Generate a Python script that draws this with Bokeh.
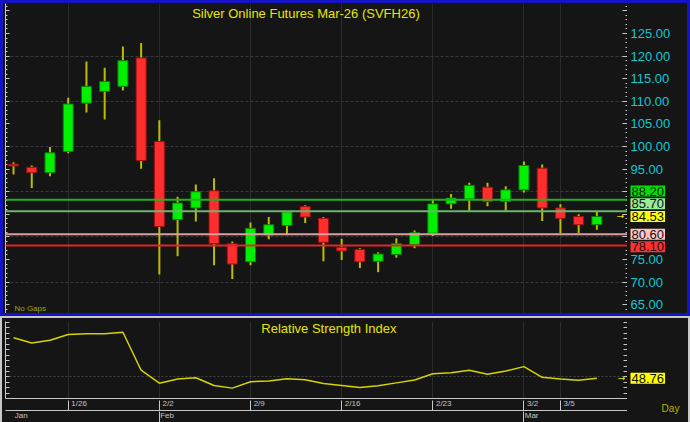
from bokeh.plotting import figure
from bokeh.models import (Span, Label, FixedTicker, LinearAxis, Range1d,
                          PrintfTickFormatter)
from bokeh.layouts import column, row
from bokeh.embed import file_html
from bokeh.resources import INLINE

# ---------------- data ----------------
open_ = [96.1, 95.4, 94.2, 98.9, 109.6, 112.2, 113.3, 119.6, 101.1, 83.8,
         86.4, 90.2, 78.5, 74.5, 80.4, 82.5, 86.7, 84.1, 77.7, 77.2,
         74.6, 76.1, 78.3, 80.8, 87.3, 88.4, 91.0, 87.8, 90.4, 95.2,
         86.4, 84.5, 82.7]
high = [96.5, 95.8, 99.9, 110.8, 118.8, 117.4, 122.1, 122.9, 105.8, 88.9,
        91.6, 93.0, 79.0, 83.2, 84.4, 85.6, 87.0, 84.4, 79.6, 77.5,
        76.6, 79.7, 81.4, 88.4, 89.5, 92.0, 92.0, 91.2, 96.7, 96.0,
        87.2, 85.0, 85.5]
low = [93.8, 90.8, 93.4, 98.5, 107.5, 106.0, 112.4, 95.1, 71.7, 75.7,
       83.4, 73.7, 70.7, 73.7, 79.5, 80.4, 83.1, 74.6, 74.9, 73.1,
       72.2, 75.4, 77.5, 80.2, 86.2, 85.8, 86.8, 85.5, 89.8, 83.5,
       80.8, 80.8, 81.6]
close = [95.7, 94.2, 98.6, 109.4, 113.3, 114.4, 119.0, 96.9, 82.3, 87.5,
         90.0, 78.5, 74.0, 81.9, 82.7, 85.5, 84.4, 78.8, 76.9, 74.5,
         76.2, 78.5, 80.9, 87.3, 88.6, 91.4, 87.8, 90.4, 95.8, 86.4,
         84.1, 82.7, 84.53]
rsi = [85.9, 81.2, 83.6, 88.9, 89.5, 89.5, 91.0, 56.2, 44.3, 48.1,
       49.3, 42.2, 39.8, 45.7, 46.4, 48.4, 47.5, 44.0, 42.3, 40.4,
       41.9, 44.6, 47.2, 52.9, 53.8, 56.2, 52.6, 55.5, 59.5, 49.7,
       48.1, 47.0, 48.76]

date_tick_idx = [3, 8, 13, 18, 23, 28, 30]
date_tick_labels = ["1/26", "2/2", "2/9", "2/16", "2/23", "3/2", "3/5"]
month_tick_idx = [0, 8, 28]
month_tick_labels = ["Jan", "Feb", "Mar"]

price_ticks = [65, 70, 75, 95, 100, 105, 110, 115, 120, 125]
level_values = [88.20, 85.70, 80.60, 78.10]
last_price = 84.53
last_rsi = 48.76

title_main = "Silver Online Futures Mar-26 (SVFH26)"
title_rsi = "Relative Strength Index"
period_label = "Day"

# ---------------- styling ----------------
FONT = "Liberation Sans"
BG = "#151515"
GRID_V = "#2c2c2c"
GRID_H = "#3a3a3a"
AXIS_C = "#c8c8c8"
YEL = "#e6e600"
CYAN = "#10c8d4"
level_line_colors = ["#22b022", "#6cb46c", "#d8a0a0", "#e02626"]
level_box_colors = ["#00e000", "#98ee98", "#ffc4c4", "#ff3030"]

idx = list(range(len(close)))
X0, X1 = -0.44, 33.68
FRAME_W = 621
PX_PER_UNIT = FRAME_W / (X1 - X0)
BOX_H = 2.8  # height of a price box, in price units


def hide_labels(ax, standoff=0):
    ax.major_label_text_color = None
    ax.major_label_text_font_size = "1px"
    ax.major_label_standoff = standoff


def base_fig(**kw):
    f = figure(output_backend="svg", toolbar_location=None, **kw)
    f.background_fill_color = BG
    f.border_fill_color = BG
    f.outline_line_color = None
    return f


def right_shift(labels, gap_px):
    # shift label centres so a centred axis label starts just right of its tick
    return [(len(t) * 4.45 / 2 + gap_px) / PX_PER_UNIT for t in labels]


def plain_axis(ticks, **kw):
    return LinearAxis(ticker=FixedTicker(ticks=ticks), minor_tick_line_color=None,
                      major_tick_in=0, major_tick_out=0, **kw)


# ---------------- main price panel ----------------
p = base_fig(width=2 + FRAME_W + 1, height=310, x_range=Range1d(X0, X1), y_range=Range1d(63.05, 131.64),
             x_axis_location=None, y_axis_location="right",
             min_border_left=2, min_border_right=0, min_border_top=0, min_border_bottom=0)

p.xgrid.ticker = FixedTicker(ticks=date_tick_idx)
p.xgrid.grid_line_color = GRID_V
p.ygrid.ticker = FixedTicker(ticks=[70, 80, 90, 100, 110, 120])
p.ygrid.grid_line_color = GRID_H
p.ygrid.grid_line_dash = "3 2"

ya = p.yaxis[0]
ya.ticker = FixedTicker(ticks=list(range(65, 131, 5)), minor_ticks=list(range(63, 132)))
hide_labels(ya)
ya.axis_line_color = AXIS_C
ya.major_tick_line_color = AXIS_C
ya.minor_tick_line_color = AXIS_C
ya.major_tick_in, ya.major_tick_out = 5, 0
ya.minor_tick_in, ya.minor_tick_out = 2, 0

la = LinearAxis(ticker=FixedTicker(ticks=list(range(65, 131, 5)), minor_ticks=list(range(63, 132))),
                axis_line_color=AXIS_C, major_tick_line_color=AXIS_C, minor_tick_line_color=AXIS_C,
                major_tick_in=4, major_tick_out=0, minor_tick_in=2, minor_tick_out=0)
hide_labels(la)
p.add_layout(la, "left")

for v, c in zip(level_values, level_line_colors):
    p.add_layout(Span(location=v, dimension="width", line_color=c, line_width=2))

up = [c >= o for o, c in zip(open_, close)]
tops = [max(o, c) for o, c in zip(open_, close)]
bots = [min(o, c) for o, c in zip(open_, close)]
fills = ["#00f000" if u else "#ff2e2e" for u in up]
edges = ["#0a7a0a" if u else "#9a1010" for u in up]

p.segment(x0=idx, y0=low, x1=idx, y1=high, line_color="#bcbc00", line_width=2)
p.vbar(x=idx, width=0.55, top=tops, bottom=bots, fill_color=fills, line_color=edges, line_width=1)

p.add_layout(Label(x=33.3, y=last_price, text="→", text_align="center", text_baseline="middle",
                   text_font="DejaVu Sans", text_font_size="9px", text_color=YEL))
p.add_layout(Label(x=16.04, y=129.4, text=title_main, text_align="center", text_baseline="middle",
                   text_font=FONT, text_font_size="13px", text_color=YEL))
p.add_layout(Label(x=0.05, y=64.2, text="No Gaps", text_align="left", text_baseline="middle",
                   text_font=FONT, text_font_size="8px", text_color="#a8a800"))

# ---------------- price scale column ----------------
Q_W, Q_FRAME = 60, 42
q = base_fig(width=Q_W, height=310, x_range=Range1d(0, Q_FRAME), y_range=p.y_range,
             x_axis_location=None, y_axis_location="right",
             min_border_left=0, min_border_right=Q_W - Q_FRAME, min_border_top=0, min_border_bottom=0)
q.grid.visible = False
qa = q.yaxis[0]
qa.ticker = FixedTicker(ticks=price_ticks)
qa.formatter = PrintfTickFormatter(format="%.2f")
qa.major_label_text_color = CYAN
qa.major_label_text_font = FONT
qa.major_label_text_font_size = "13px"
qa.axis_line_color = None
qa.major_tick_line_color = None
qa.minor_tick_line_color = None
qa.major_tick_in, qa.major_tick_out = 0, 0
qa.major_label_standoff = -(Q_FRAME - 3)

# price boxes, stacked so they do not overlap the last-price box
above = sorted([v for v in level_values if v > last_price])
below = sorted([v for v in level_values if v < last_price], reverse=True)
box_pos = {}
prev = last_price
for v in above:
    prev = max(v, prev + BOX_H)
    box_pos[v] = prev
prev = last_price
for v in below:
    prev = min(v, prev - BOX_H)
    box_pos[v] = prev

for v, c in zip(level_values, level_box_colors):
    q.add_layout(Label(x=3, y=box_pos[v], text=f"{v:.2f}", text_align="left", text_baseline="middle",
                       text_font=FONT, text_font_size="13px", text_color="#101010",
                       background_fill_color=c, padding=1))
q.add_layout(Label(x=3, y=last_price, text=f"{last_price:.2f}", text_align="left",
                   text_baseline="middle", text_font=FONT, text_font_size="13px", text_color="#101010",
                   background_fill_color="#ffff00", padding=1))

# ---------------- RSI panel ----------------
r = base_fig(width=3 + FRAME_W + 1, height=104, x_range=p.x_range, y_range=Range1d(30.3, 100.8),
             x_axis_location=None, y_axis_location="right",
             min_border_left=3, min_border_right=0, min_border_top=3, min_border_bottom=22)

r.xgrid.ticker = FixedTicker(ticks=date_tick_idx)
r.xgrid.grid_line_color = GRID_V
r.ygrid.ticker = FixedTicker(ticks=[50])
r.ygrid.grid_line_color = "#444444"
r.ygrid.grid_line_dash = "2 2"

ry = r.yaxis[0]
ry.ticker = FixedTicker(ticks=list(range(35, 101, 5)))
hide_labels(ry)
ry.axis_line_color = AXIS_C
ry.major_tick_line_color = AXIS_C
ry.major_tick_in, ry.major_tick_out = 4, 0
ry.minor_tick_line_color = None

rl = LinearAxis(ticker=FixedTicker(ticks=list(range(35, 101, 5))),
                axis_line_color=AXIS_C, major_tick_line_color=AXIS_C,
                major_tick_in=4, major_tick_out=0, minor_tick_line_color=None)
hide_labels(rl)
r.add_layout(rl, "left")

# 1) date labels, just right of their day separators (axis line = panel bottom)
d_pos = [i + s for i, s in zip(date_tick_idx, right_shift(date_tick_labels, 2))]
ax_dates = plain_axis(d_pos, axis_line_color=AXIS_C, major_tick_line_color=None,
                      major_label_overrides={k: v for k, v in zip(d_pos, date_tick_labels)},
                      major_label_text_font=FONT, major_label_text_font_size="8px",
                      major_label_text_color="#c4c4c4", major_label_standoff=0)
r.add_layout(ax_dates, "below")
# 2) day separators drawn upward from the second rule
ax_dsep = plain_axis(date_tick_idx, axis_line_color=AXIS_C, major_tick_line_color=AXIS_C)
ax_dsep.major_tick_in = 10
hide_labels(ax_dsep)
r.add_layout(ax_dsep, "below")
# 3) month labels
m_pos = [i + s for i, s in zip(month_tick_idx, right_shift(month_tick_labels, 1))]
ax_months = plain_axis(m_pos, axis_line_color=None, major_tick_line_color=None,
                       major_label_overrides={k: v for k, v in zip(m_pos, month_tick_labels)},
                       major_label_text_font=FONT, major_label_text_font_size="8px",
                       major_label_text_color="#c4c4c4", major_label_standoff=0)
r.add_layout(ax_months, "below")
# 4) month separators drawn upward
ax_msep = plain_axis([m for m in month_tick_idx if m > 0], axis_line_color=None,
                     major_tick_line_color=AXIS_C)
ax_msep.major_tick_in = 11
hide_labels(ax_msep)
r.add_layout(ax_msep, "below")

r.line(idx, rsi, line_color="#d4d400", line_width=1.5)

r.add_layout(Label(x=17.3, y=94.0, text=title_rsi, text_align="center", text_baseline="middle",
                   text_font=FONT, text_font_size="13px", text_color=YEL))
r.add_layout(Label(x=33.35, y=last_rsi, text="→", text_align="center", text_baseline="middle",
                   text_font="DejaVu Sans", text_font_size="9px", text_color=YEL))

# ---------------- RSI value column ----------------
S_W = 686 - (3 + FRAME_W + 1)
s = base_fig(width=S_W, height=104, x_range=Range1d(0, S_W), y_range=r.y_range,
             x_axis_location=None, y_axis_location=None,
             min_border_left=0, min_border_right=0, min_border_top=3, min_border_bottom=22)
s.grid.visible = False
s.add_layout(Label(x=3, y=last_rsi, text=f"{last_rsi:.2f}", text_align="left",
                   text_baseline="middle", text_font=FONT, text_font_size="13px", text_color="#101010",
                   background_fill_color="#ffff00", padding=1))
sx = plain_axis([43], axis_line_color=None, major_tick_line_color=None,
                major_label_overrides={43: period_label},
                major_label_text_font=FONT, major_label_text_font_size="10px",
                major_label_text_color="#b4b400", major_label_standoff=4)
s.add_layout(sx, "below")

top_row = row(p, q, spacing=0, styles={"border": "3px solid #1414c4", "background-color": BG})
bot_row = row(r, s, spacing=0, styles={"border-style": "solid", "border-color": "#c8c8c8",
                                       "border-width": "2px 2px 0 2px", "background-color": BG})
layout = column(top_row, bot_row, spacing=0)
open("out.html", "w").write(file_html(layout, INLINE))
